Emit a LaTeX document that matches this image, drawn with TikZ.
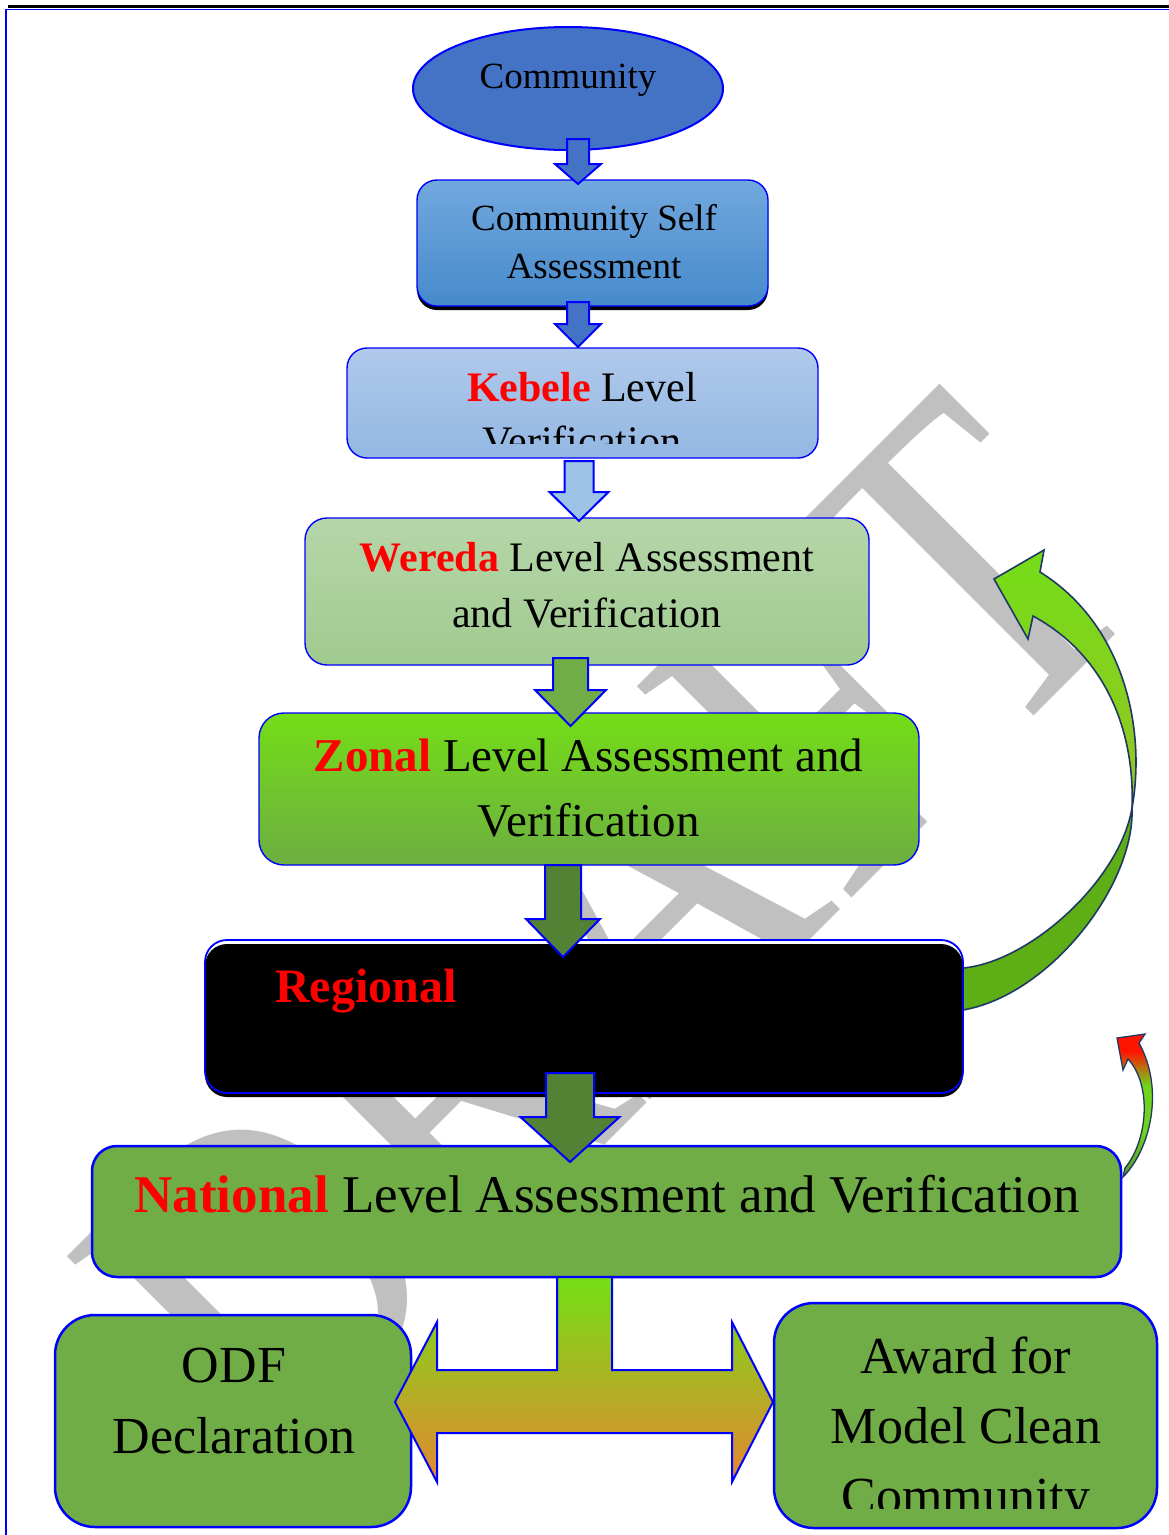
\documentclass[tikz,border=0pt]{standalone}
\usepackage{fontspec}
\newfontfamily\tnr{Liberation Serif}
\usetikzlibrary{shapes.geometric, shadows}

\definecolor{bordblue}{RGB}{0,0,255}
\definecolor{commblue}{RGB}{68,114,196}
\definecolor{csatop}{RGB}{114,168,222}
\definecolor{csabot}{RGB}{70,138,204}
\definecolor{kebtop}{RGB}{176,201,234}
\definecolor{kebbot}{RGB}{147,183,227}
\definecolor{kebarrow}{RGB}{157,195,230}
\definecolor{wertop}{RGB}{182,214,170}
\definecolor{werbot}{RGB}{160,202,143}
\definecolor{zontop}{RGB}{116,221,23}
\definecolor{zonbot}{RGB}{109,174,66}
\definecolor{leafgreen}{RGB}{112,173,71}
\definecolor{darkleaf}{RGB}{84,130,53}
\definecolor{wmgray}{RGB}{192,192,192}
\definecolor{navyline}{RGB}{31,56,100}
\definecolor{limegreen}{RGB}{116,221,24}
\definecolor{olivegreen}{RGB}{150,196,36}
\definecolor{grassgreen}{RGB}{94,174,22}
\definecolor{arrgreen}{RGB}{116,223,22}
\definecolor{arrolive}{RGB}{160,185,35}
\definecolor{arrorange}{RGB}{228,135,48}
\definecolor{flamered}{RGB}{255,20,0}
\definecolor{midgreen}{RGB}{112,212,28}
\definecolor{deepgreen}{RGB}{88,150,38}

\pgfdeclareverticalshading{smallarrowshade}{100bp}{color(0bp)=(deepgreen); color(25bp)=(deepgreen);
  color(41bp)=(midgreen); color(57bp)=(midgreen); color(69bp)=(flamered); color(100bp)=(flamered)}

\tikzset{
  box/.style={rectangle, draw=bordblue, line width=1.4pt, inner sep=0pt, rounded corners=#1},
  box/.default=20pt,
  greenbox/.style={box=#1, fill=leafgreen, line width=2.5pt},
  greenbox/.default=25pt,
  blockarrow/.style={draw=bordblue, line width=2pt, line join=miter},
  curvedarrow/.style={draw=navyline, line width=1.6pt, line join=miter},
  blackshadow/.style={drop shadow={shadow xshift=0pt, shadow yshift=-4pt, opacity=1, fill=black}},
  txt/.style={inner sep=0pt, align=center}
}

% down block arrow: fill, x, top, head, tip, half shaft, half head
\newcommand{\downblock}[7]{%
  \filldraw[blockarrow, fill=#1] (#2-#6,#3) -- (#2+#6,#3) -- (#2+#6,#4) -- (#2+#7,#4)
    -- (#2,#5) -- (#2-#7,#4) -- (#2-#6,#4) -- cycle;}

\newcommand{\redword}[1]{\textcolor{red}{\textbf{#1}}}

\begin{document}
\begin{tikzpicture}[x=1pt, y=-1pt]
  \useasboundingbox (0,0) rectangle (1169,1535);
  \fill[white] (0,0) rectangle (1169,1535);

  % watermark
  \node[anchor=base east, rotate=45, xscale=0.83, inner sep=0pt, text=wmgray,
    font=\tnr\fontsize{460}{460}\selectfont] (wm) at (1158,592) {DRAFT};

  % page frame
  \draw[black, line width=3pt] (7.5,6) -- (1169,6);
  \draw[bordblue, line width=1.5pt] (6,1535) -- (6,9.5) -- (1169,9.5);

  % big curved arrow from Regional back up
  \path[curvedarrow, fill=grassgreen] (963,1010) .. controls (1050,995) and (1135,885) .. (1132,808)
    .. controls (1120,880) and (1030,962) .. (963,968) -- cycle;
  \path[curvedarrow, top color=limegreen, bottom color=olivegreen] (1132,808)
    .. controls (1146,730) and (1125,625) .. (1040,572) -- (1044,550) -- (994,579) -- (1028,639)
    -- (1033,616) .. controls (1105,655) and (1135,730) .. (1132,808) -- cycle;

  % boxes
  \node[ellipse, draw=bordblue, line width=2pt, fill=commblue, inner sep=0pt,
    minimum width=310pt, minimum height=123pt] (comm) at (568,88.5) {};
  \node[box=20pt, top color=csatop, bottom color=csabot, blackshadow,
    minimum width=351pt, minimum height=126pt] (csa) at (592.5,243) {};
  \node[box=20pt, top color=kebtop, bottom color=kebbot,
    minimum width=471pt, minimum height=110pt] (keb) at (582.5,403) {};
  \node[box=22pt, top color=wertop, bottom color=werbot,
    minimum width=564pt, minimum height=147pt] (wer) at (587,591.5) {};
  \node[box=25pt, top color=zontop, bottom color=zonbot,
    minimum width=660pt, minimum height=152pt] (zon) at (589,789) {};
  \node[box=22pt, line width=1.8pt, preaction={fill=white}, blackshadow,
    minimum width=758pt, minimum height=153pt] (reg) at (584,1016.5) {};
  \node[greenbox=25pt, minimum width=1029pt, minimum height=131pt] (nat) at (606.5,1211.5) {};
  \node[greenbox=40pt, minimum width=356pt, minimum height=212pt] (odf) at (233,1421) {};
  \node[greenbox=40pt, minimum width=383pt, minimum height=225pt] (award) at (965.5,1415.5) {};

  % texts
  \node[txt, anchor=base, font=\tnr\fontsize{37}{44}\selectfont] (comm-txt) at (568,88) {Community};
  \node[txt, font=\tnr\fontsize{37}{48}\selectfont] (csa-txt) at (594,241.4) {Community Self\\Assessment};
  \begin{scope}
    \clip (347,348) rectangle (818,443);
    \node[txt, font=\tnr\fontsize{42}{54}\selectfont] (keb-txt) at (582,414.7)
      {\redword{Kebele} Level\\Verification};
  \end{scope}
  \node[txt, font=\tnr\fontsize{42}{56}\selectfont] (wer-txt) at (587,585.7)
    {\redword{Wereda} Level Assessment\\and Verification};
  \node[txt, font=\tnr\fontsize{47}{65}\selectfont] (zon-txt) at (588.5,788.5)
    {\redword{Zonal} Level Assessment and\\Verification};
  \node[txt, anchor=base west, font=\tnr\fontsize{48}{56}\selectfont] (reg-txt) at (275,1002)
    {\redword{Regional}};
  \node[txt, anchor=base, font=\tnr\fontsize{53}{60}\selectfont] (nat-txt) at (607,1212)
    {\redword{National} Level Assessment and Verification};
  \node[txt, font=\tnr\fontsize{52}{71}\selectfont] (odf-txt) at (234,1401) {ODF\\Declaration};
  \begin{scope}
    \clip (774,1303) rectangle (1157,1508);
    \node[txt, font=\tnr\fontsize{52}{70}\selectfont] (award-txt) at (966,1430.9)
      {Award for\\Model Clean\\Community};
  \end{scope}

  % small curved arrow at National
  \path[curvedarrow, line width=1.3pt, shading=smallarrowshade]
    (1123,1177) .. controls (1150,1150) and (1165,1090) .. (1139,1043) -- (1145,1034) -- (1117,1038)
    -- (1123,1070) -- (1128,1059) .. controls (1152,1085) and (1148,1140) .. (1125,1168) -- cycle;

  % block arrows between levels
  \downblock{commblue}{578}{139}{164}{184}{11}{23}
  \downblock{commblue}{578}{302}{324}{347}{11}{23}
  \downblock{kebarrow}{579}{461}{492}{521}{14.5}{29.5}
  \downblock{leafgreen}{570.5}{658}{690}{726}{17.5}{35.5}
  \downblock{darkleaf}{563}{865}{919}{957}{18}{37}
  \downblock{darkleaf}{570}{1073}{1117}{1162}{24}{49.5}

  % split arrow to ODF and Award
  \path[blockarrow, top color=arrgreen, middle color=arrolive, bottom color=arrorange]
    (557,1277) -- (612,1277) -- (612,1370) -- (732,1370) -- (732,1322) -- (773,1402) -- (732,1482)
    -- (732,1433) -- (437,1433) -- (437,1482) -- (395,1402) -- (437,1322) -- (437,1370)
    -- (557,1370) -- cycle;
\end{tikzpicture}
\end{document}
